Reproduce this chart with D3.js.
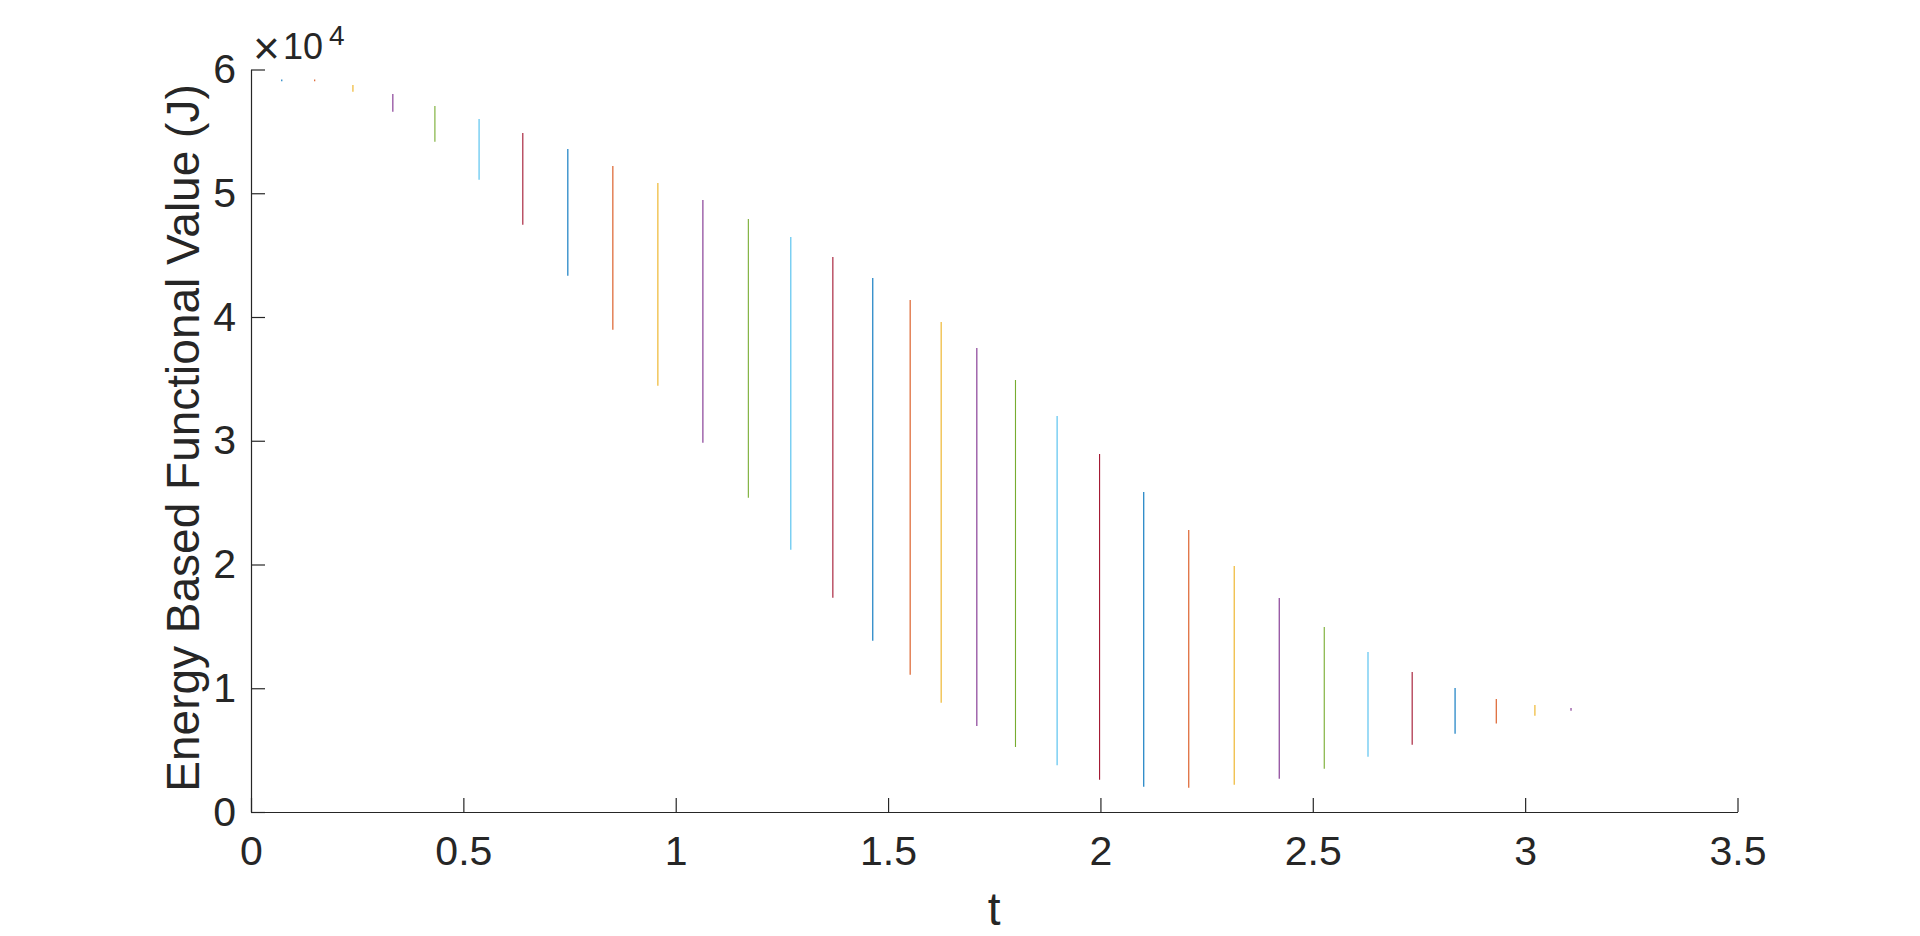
<!DOCTYPE html>
<html>
<head>
<meta charset="utf-8">
<script src="https://cdn.jsdelivr.net/npm/d3@7"></script>
<style>
  html, body { margin: 0; padding: 0; background: #fff; }
  svg { display: block; font-family: "Liberation Sans", Arial, Helvetica, sans-serif; }
</style>
</head>
<body>
<svg id="chart" width="1920" height="936"></svg>
<script>
// Data (energy values in J)
const tValues = [0.0725, 0.150, 0.240, 0.334, 0.433, 0.537, 0.640, 0.746, 0.852, 0.958,
                 1.064, 1.171, 1.271, 1.370, 1.464, 1.552, 1.625, 1.709, 1.800, 1.898,
                 1.998, 2.102, 2.208, 2.315, 2.421, 2.527, 2.630, 2.734, 2.835, 2.932,
                 3.023, 3.108];
const lowValues = [59050, 59050, 58200, 56590, 54170, 51100, 47460, 43340, 38970, 34450,
                   29840, 25400, 21200, 17320, 13840, 11090, 8820, 6940, 5250, 3770,
                   2610, 2040, 1960, 2210, 2690, 3500, 4470, 5440, 6330, 7150,
                   7780, 8180];
const highValues = [59200, 59200, 58750, 58020, 57050, 56000, 54870, 53580, 52200, 50830,
                    49450, 47920, 46460, 44850, 43150, 41370, 39600, 37500, 34910, 32000,
                    28930, 25860, 22790, 19880, 17290, 14950, 12930, 11310, 10020, 9130,
                    8650, 8400];
const colorCycle = ["#0072BD", "#D95319", "#EDB120", "#7E2F8E", "#77AC30", "#4DBEEE", "#A2142F"];
const xTicks = [0, 0.5, 1, 1.5, 2, 2.5, 3, 3.5];
const yTicks = [0, 10000, 20000, 30000, 40000, 50000, 60000];
const xLabelText = "t";
const yLabelText = "Energy Based Functional Value (J)";

const svg = d3.select("#chart");
const pLeft = 251, pRight = 1737.5, pTop = 69.5, pBottom = 812;
const axisColor = "#262626";

const x = d3.scaleLinear().domain([0, 3.5]).range([pLeft, pRight]);
const y = d3.scaleLinear().domain([0, 60000]).range([pBottom, pTop]);

// Segments
const segs = tValues.map((t, i) => ({t, lo: lowValues[i], hi: highValues[i], c: colorCycle[i % colorCycle.length]}));
svg.append("g").selectAll("line").data(segs).join("line")
  .attr("x1", d => x(d.t)).attr("x2", d => x(d.t))
  .attr("y1", d => y(d.lo)).attr("y2", d => Math.min(y(d.hi), y(d.lo) - 1))
  .attr("stroke", d => d.c).attr("stroke-width", 1.1);

// X axis
const xAxis = d3.axisBottom(x).tickValues(xTicks).tickSize(-14).tickPadding(24)
  .tickFormat(d => d3.format("")(d)).tickSizeOuter(0);
const gx = svg.append("g").attr("transform", `translate(0,${pBottom})`).call(xAxis);
gx.select(".domain").attr("stroke", axisColor).attr("stroke-width", 1.2);
gx.selectAll(".tick line").attr("stroke", axisColor).attr("stroke-width", 1.2);
gx.selectAll(".tick text").attr("fill", axisColor).attr("font-size", 41)
  .attr("font-family", "Liberation Sans, Arial, sans-serif")
  .attr("dy", "0.71em");

// Y axis
const yAxis = d3.axisLeft(y).tickValues(yTicks).tickSize(-14).tickPadding(15)
  .tickFormat(d => d / 10000).tickSizeOuter(0);
const gy = svg.append("g").attr("transform", `translate(${pLeft},0)`).call(yAxis);
gy.select(".domain").attr("stroke", axisColor).attr("stroke-width", 1.2);
gy.selectAll(".tick line").attr("stroke", axisColor).attr("stroke-width", 1.2);
gy.selectAll(".tick text").attr("fill", axisColor).attr("font-size", 41)
  .attr("font-family", "Liberation Sans, Arial, sans-serif");

// Exponent label (x10^4)
const expo = svg.append("text").attr("fill", axisColor);
expo.append("tspan").attr("x", pLeft + 2).attr("y", 64).attr("font-size", 46).text("\u00D7");
expo.append("tspan").attr("x", pLeft + 32).attr("y", 59).attr("font-size", 36).text("10");
expo.append("tspan").attr("x", pLeft + 78).attr("y", 45).attr("font-size", 28).text("4");

// Axis labels
svg.append("text").attr("x", (pLeft + pRight) / 2).attr("y", 925)
  .attr("text-anchor", "middle").attr("fill", axisColor).attr("font-size", 46)
  .text(xLabelText);
svg.append("text").attr("transform", `translate(199,438) rotate(-90)`)
  .attr("text-anchor", "middle").attr("fill", axisColor).attr("font-size", 46)
  .text(yLabelText);
</script>
</body>
</html>
